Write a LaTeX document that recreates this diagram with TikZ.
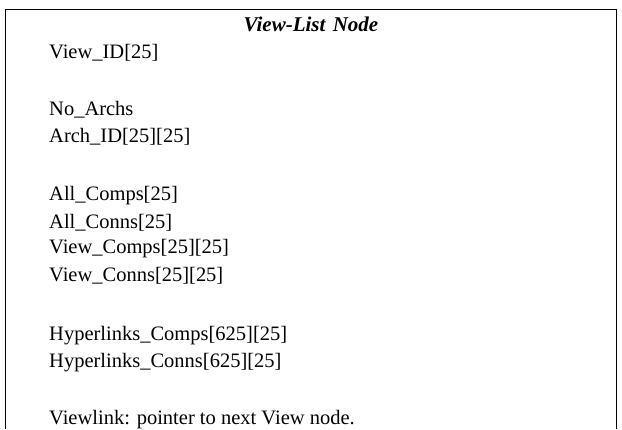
\documentclass[tikz,border=0pt]{standalone}
\usepackage{fontspec}
\setmainfont{Liberation Serif}
\begin{document}
\begin{tikzpicture}[x=1pt,y=-1pt,
  field/.style={anchor=west,inner sep=0pt,font=\fontsize{20.5}{24}\selectfont},
  titletext/.style={inner sep=0pt,font=\fontsize{21}{24}\selectfont\bfseries\itshape},
  frame/.style={line width=1.3pt,black}]
\useasboundingbox (0,0) rectangle (622,429);
\coordinate (bl) at (5.5,429);
\coordinate (tl) at (5.5,9.5);
\coordinate (tr) at (616.5,9.5);
\coordinate (br) at (616.5,429);
\draw[frame] (bl) -- (tl) -- (tr) -- (br);
\node[titletext] (title) at (311,24) {View-List\hspace{0.35em}Node};
\node[field] (f1) at (49,53) {View\_ID[25]};
\node[field] (f2) at (49,110) {No\_Archs};
\node[field] (f3) at (49,137) {Arch\_ID[25][25]};
\node[field] (f4) at (49,196) {All\_Comps[25]};
\node[field] (f5) at (49,222.5) {All\_Conns[25]};
\node[field] (f6) at (49,249) {View\_Comps[25][25]};
\node[field] (f7) at (49,275.5) {View\_Conns[25][25]};
\node[field] (f8) at (49,336) {Hyperlinks\_Comps[625][25]};
\node[field] (f9) at (49,362.5) {Hyperlinks\_Conns[625][25]};
\node[field] (f10) at (49,420) {Viewlink: pointer to next View node.};
\end{tikzpicture}
\end{document}
